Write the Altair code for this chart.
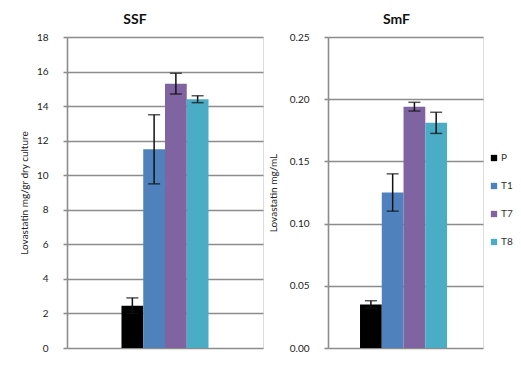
import altair as alt
import pandas as pd

treatments = ["P", "T1", "T7", "T8"]
colors = ["#000000", "#4f81bd", "#8064a2", "#4bacc6"]

ssf_mean = [2.45, 11.5, 15.3, 14.4]
ssf_err = [0.45, 2.0, 0.6, 0.2]
ssf_ticks = [0, 2, 4, 6, 8, 10, 12, 14, 16, 18]

smf_mean = [0.035, 0.125, 0.194, 0.181]
smf_err = [0.003, 0.015, 0.0035, 0.0085]
smf_ticks = [0.0, 0.05, 0.10, 0.15, 0.20, 0.25]

FONT = "Lato"
GRID = "#8c8c8c"


def make_df(mean, err):
    return pd.DataFrame({
        "grp": ["all"] * len(treatments),
        "treatment": treatments,
        "value": mean,
        "lo": [m - e for m, e in zip(mean, err)],
        "hi": [m + e for m, e in zip(mean, err)],
    })


def panel(df, title, ytitle, ymax, ticks, fmt, width, pad_outer, title_dx, title_pad):
    x = alt.X("grp:N", axis=None,
              scale=alt.Scale(paddingInner=0, paddingOuter=pad_outer))
    xo = alt.XOffset("treatment:N", sort=treatments,
                     scale=alt.Scale(paddingInner=0, paddingOuter=0))
    y_scale = alt.Scale(domain=[0, ymax], nice=False, zero=True)
    yaxis = alt.Axis(values=ticks, format=fmt, title=ytitle,
                     grid=True, gridColor=GRID, gridWidth=1.6,
                     domainColor=GRID, domainWidth=1.6,
                     tickColor=GRID, tickWidth=1.6, tickSize=4,
                     labelPadding=15, titlePadding=title_pad,
                     labelOverlap=False,
                     labelFont=FONT, labelFontSize=10, labelColor="#222222",
                     titleFont=FONT, titleFontSize=10, titleFontWeight="normal",
                     titleColor="#222222")
    bars = alt.Chart(df).mark_bar().encode(
        x=x, xOffset=xo,
        y=alt.Y("value:Q", scale=y_scale, axis=yaxis, title=ytitle),
        color=alt.Color("treatment:N", sort=treatments,
                        scale=alt.Scale(domain=treatments, range=colors),
                        legend=alt.Legend(title=None, orient="none",
                                          legendX=422, legendY=116,
                                          symbolType="square", symbolSize=40,
                                          symbolStrokeWidth=0, rowPadding=18,
                                          labelFont=FONT, labelFontSize=10,
                                          labelColor="#333333", labelOffset=2)),
    )
    rules = alt.Chart(df).mark_rule(color="#111111", strokeWidth=1.5).encode(
        x=x, xOffset=xo, y=alt.Y("lo:Q", scale=y_scale, axis=yaxis, title=ytitle),
        y2="hi:Q")
    cap_hi = alt.Chart(df).mark_tick(color="#111111", thickness=1.5, size=12,
                                     orient="horizontal").encode(
        x=x, xOffset=xo, y=alt.Y("hi:Q", scale=y_scale, axis=yaxis, title=ytitle))
    cap_lo = alt.Chart(df).mark_tick(color="#111111", thickness=1.5, size=12,
                                     orient="horizontal").encode(
        x=x, xOffset=xo, y=alt.Y("lo:Q", scale=y_scale, axis=yaxis, title=ytitle))
    return alt.layer(bars, rules, cap_hi, cap_lo).properties(
        width=width, height=311,
        title=alt.TitleParams(title, font=FONT, fontSize=14, fontWeight="bold",
                              color="#111111", dx=title_dx, offset=5),
    )


left = panel(make_df(ssf_mean, ssf_err), "SSF", "Lovastatin mg/gr dry culture",
             18, ssf_ticks, "d", 196, 0.626, -30, 7)
right = panel(make_df(smf_mean, smf_err), "SmF", "Lovastatin mg/mL",
              0.25, smf_ticks, ".2f", 155, 0.352, -9, 11)

chart = alt.hconcat(left, right, spacing=3).properties(
    padding={"left": 10, "top": 4, "right": 0, "bottom": 0}
).configure_view(strokeWidth=0).configure(background="white")

chart.save("out.html", embed_options={"renderer": "svg", "actions": False})
